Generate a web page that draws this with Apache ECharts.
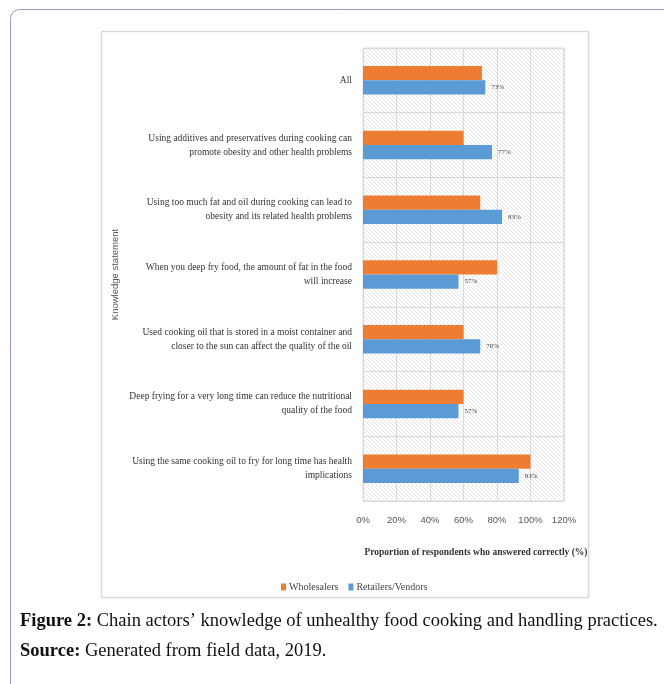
<!DOCTYPE html>
<html>
<head>
<meta charset="utf-8">
<script src="https://cdn.jsdelivr.net/npm/echarts@6/dist/echarts.min.js"></script>
<style>
  html, body { margin: 0; padding: 0; background: #fff; }
  #chart { width: 664px; height: 684px; }
</style>
</head>
<body>
<div id="chart"></div>
<script>
const statements = [
  "All",
  "Using additives and preservatives during cooking can\npromote obesity and other health problems",
  "Using too much fat and oil during cooking can lead to\nobesity and its related health problems",
  "When you deep fry food, the amount of fat in the food\nwill increase",
  "Used cooking oil that is stored in a moist container and\ncloser to the sun can affect the quality of the oil",
  "Deep frying for a very long time can reduce the nutritional\nquality of the food",
  "Using the same cooking oil to fry for long time has health\nimplications"
];
const wholesalers = [71, 60, 70, 80, 60, 60, 100];
const retailers = [73, 77, 83, 57, 70, 57, 93];
const xTicks = [0, 20, 40, 60, 80, 100, 120];

// hatched plot background
const hatch = document.createElement("canvas");
hatch.width = 4;
hatch.height = 4;
const hc = hatch.getContext("2d");
hc.fillStyle = "#ffffff";
hc.fillRect(0, 0, 4, 4);
hc.strokeStyle = "#e4e4e4";
hc.lineWidth = 1;
hc.beginPath();
hc.moveTo(-1, -1); hc.lineTo(5, 5);
hc.moveTo(-1, 3); hc.lineTo(1, 5);
hc.moveTo(3, -1); hc.lineTo(5, 1);
hc.stroke();

const serif = "'Liberation Serif', 'DejaVu Serif', serif";
const sans = "'Liberation Sans', Arial, sans-serif";

const chart = echarts.init(document.getElementById("chart"));
chart.setOption({
  animation: false,
  backgroundColor: "#ffffff",
  graphic: [
    {
      type: "rect",
      z: -10,
      shape: { x: 10.5, y: 9.5, width: 700, height: 700, r: 9 },
      style: { fill: "#ffffff", stroke: "#9a98c2", lineWidth: 1 }
    },
    {
      type: "rect",
      z: -9,
      shape: { x: 101.5, y: 31.5, width: 487, height: 566 },
      style: {
        fill: "#ffffff",
        stroke: "#d8d8d8",
        lineWidth: 1,
        shadowBlur: 3,
        shadowColor: "rgba(0,0,0,0.12)"
      }
    },
    {
      type: "text",
      left: 20,
      top: 612,
      style: {
        text: "{b|Figure 2:} Chain actors’ knowledge of unhealthy food cooking and handling practices.",
        font: "18.5px " + serif,
        fill: "#111",
        rich: { b: { fontWeight: "bold", fontSize: 18.5, fontFamily: serif } }
      }
    },
    {
      type: "text",
      left: 20,
      top: 642,
      style: {
        text: "{b|Source:} Generated from field data, 2019.",
        font: "18.5px " + serif,
        fill: "#111",
        rich: { b: { fontWeight: "bold", fontSize: 18.5, fontFamily: serif } }
      }
    }
  ],
  legend: {
    left: 276,
    top: 577,
    itemWidth: 5,
    itemHeight: 7,
    itemGap: 10,
    icon: "rect",
    textStyle: { fontFamily: serif, fontSize: 10, color: "#444", padding: [0, 0, 0, -2] },
    data: ["Wholesalers", "Retailers/Vendors"]
  },
  grid: {
    left: 363,
    right: 100,
    top: 48,
    bottom: 183,
    show: true,
    backgroundColor: { image: hatch, repeat: "repeat" },
    borderColor: "#d9d9d9",
    borderWidth: 1
  },
  xAxis: {
    type: "value",
    min: 0,
    max: 120,
    interval: 20,
    name: "Proportion of respondents who answered correctly (%)",
    nameLocation: "middle",
    nameGap: 47,
    nameTextStyle: {
      fontFamily: serif,
      fontWeight: "bold",
      fontSize: 9.5,
      color: "#333",
      padding: [0, 0, 0, 25]
    },
    axisLine: { show: false },
    axisTick: { show: false },
    axisLabel: {
      margin: 14,
      fontFamily: sans,
      fontSize: 9.5,
      color: "#555",
      formatter: (v) => (xTicks.includes(v) ? v + "%" : "")
    },
    splitLine: { lineStyle: { color: "#d9d9d9", width: 1 } }
  },
  yAxis: {
    type: "category",
    inverse: true,
    data: statements,
    name: "Knowledge statement",
    nameLocation: "middle",
    nameGap: 243,
    nameRotate: 90,
    nameTextStyle: { fontFamily: sans, fontSize: 9.5, color: "#555" },
    axisLine: { show: false },
    axisTick: { show: false },
    axisLabel: {
      margin: 11,
      fontFamily: serif,
      fontSize: 9.5,
      lineHeight: 14,
      color: "#333",
      align: "right"
    },
    splitLine: { show: true, lineStyle: { color: "#d9d9d9", width: 1 } }
  },
  series: [
    {
      name: "Wholesalers",
      type: "bar",
      data: wholesalers,
      barGap: "0%",
      barCategoryGap: "56%",
      itemStyle: { color: "#ED7D31" }
    },
    {
      name: "Retailers/Vendors",
      type: "bar",
      data: retailers,
      barGap: "0%",
      barCategoryGap: "56%",
      itemStyle: { color: "#5B9BD5" },
      label: {
        show: true,
        position: "right",
        distance: 6,
        fontFamily: serif,
        fontSize: 7,
        color: "#444",
        formatter: (p) => p.value + "%"
      }
    }
  ]
});
</script>
</body>
</html>
